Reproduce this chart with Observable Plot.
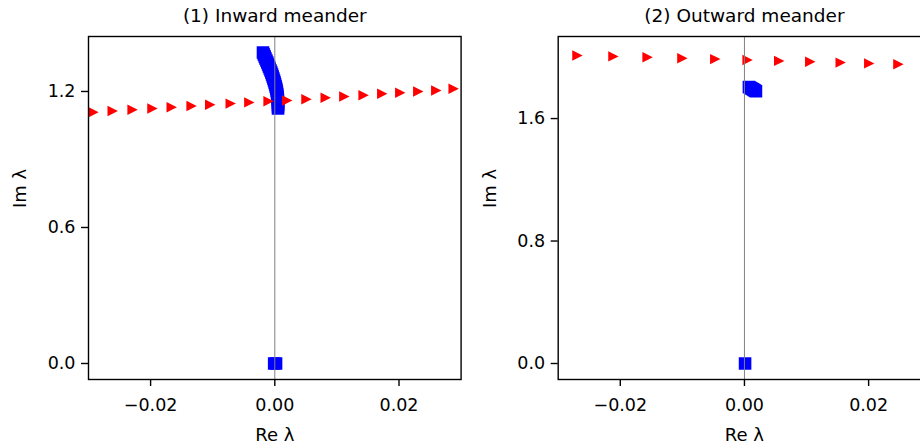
<!DOCTYPE html>
<html>
<head>
<meta charset="utf-8">
<script src="https://cdn.jsdelivr.net/npm/d3@7"></script>
<script src="https://cdn.jsdelivr.net/npm/@observablehq/plot@0.6"></script>
<style>
  html, body { margin: 0; padding: 0; background: white; }
  #wrap { width: 920px; height: 444px; overflow: hidden; display: flex; flex-direction: row; }
  #wrap svg { flex: none; }
</style>
</head>
<body>
<div id="wrap"></div>
<script>
// ---------- Data ----------
const titles = ["(1) Inward meander", "(2) Outward meander"];
const xLabel = "Re λ";
const yLabel = "Im λ";
const xTicks = [-0.02, 0, 0.02];
const yTicksInward = [0, 0.6, 1.2];
const yTicksOutward = [0, 0.8, 1.6];

// Panel 1 : red triangles
const inwardRedRe = [-0.0292, -0.0261, -0.0229, -0.0197, -0.0166, -0.0134, -0.0104, -0.0071, -0.0041, -0.0010,
                     0.0020, 0.0051, 0.0082, 0.0112, 0.0143, 0.0173, 0.0202, 0.0231, 0.0260, 0.0288];
const inwardRedIm = [1.1085, 1.1138, 1.1196, 1.1249, 1.1301, 1.1359, 1.1412, 1.1465, 1.1517, 1.1570,
                     1.1601, 1.1659, 1.1720, 1.1778, 1.1835, 1.1897, 1.1941, 1.1998, 1.2042, 1.2117];
// Panel 1 : blue squares (meandering branch + origin)
const inwardBlueRe = [-0.00190, -0.00177, -0.00163, -0.00150, -0.00135, -0.00121, -0.00108, -0.00095, -0.00082,
                      -0.00069, -0.00056, -0.00045, -0.00034, -0.00023, -0.00013, -0.00003, 0.00006, 0.00014,
                      0.00023, 0.00029, 0.00035, 0.00040, 0.00045, 0.00048, 0.00050, 0.00052, 0.00052, 0.00052,
                      0.00052, -0.0001, 0.0002];
const inwardBlueIm = [1.3719, 1.3630, 1.3542, 1.3454, 1.3366, 1.3278, 1.3189, 1.3101, 1.3013,
                      1.2925, 1.2837, 1.2748, 1.2660, 1.2572, 1.2484, 1.2395, 1.2307, 1.2219,
                      1.2131, 1.2042, 1.1954, 1.1866, 1.1778, 1.1690, 1.1601, 1.1513, 1.1425, 1.1337,
                      1.1249, 0, 0];

// Panel 2 : red triangles
const outwardRedRe = [-0.0269, -0.0211, -0.0156, -0.0100, -0.0047, 0.0005, 0.0056, 0.0106, 0.0155, 0.0201, 0.0248];
const outwardRedIm = [2.0118, 2.0059, 2.0000, 1.9941, 1.9883, 1.9824, 1.9765, 1.9706, 1.9654, 1.9602, 1.9549];
// Panel 2 : blue squares
const outwardBlueRe = [0.00072, 0.00089, 0.00105, 0.00121, 0.00137, 0.00153, 0.00169, 0.00185, 0.0001];
const outwardBlueIm = [1.8060, 1.8021, 1.7982, 1.7943, 1.7903, 1.7864, 1.7825, 1.7786, 0];

const yDomainInward = [-0.0706, 1.4425];
const yDomainOutward = [-0.1045, 2.136];

// ---------- Symbols ----------
const squareSym = {draw(ctx, size) { const r = Math.sqrt(size / Math.PI); ctx.rect(-r, -r, 2 * r, 2 * r); }};
const triRightSym = {draw(ctx, size) {
  const r = Math.sqrt(size / Math.PI);
  ctx.moveTo(r, 0); ctx.lineTo(-r, -r); ctx.lineTo(-r, r); ctx.closePath();
}};

const zip = (xs, ys) => xs.map((x, i) => ({re: x, im: ys[i]}));

function panel({title, red, blue, yDomain, yTicks, marginLeft, marginRight}) {
  return Plot.plot({
    width: 470, height: 444,
    marginLeft, marginRight, marginTop: 36, marginBottom: 65,
    x: {domain: [-0.03, 0.03]},
    y: {domain: yDomain},
    style: {fontFamily: "DejaVu Sans", fontSize: "17.5px", color: "black", background: "white", overflow: "visible"},
    marks: [
      Plot.dot(blue, {x: "re", y: "im", symbol: squareSym, r: 6.3, fill: "#0000ff", stroke: "none", clip: true}),
      Plot.dot(red, {x: "re", y: "im", symbol: triRightSym, r: 5.2, fill: "#ff0000", stroke: "none", clip: true}),
      Plot.ruleX([0], {stroke: "#808080", strokeWidth: 1}),
      Plot.frame({stroke: "black", strokeWidth: 1.4}),
      Plot.axisX({ticks: xTicks, tickFormat: d3.format(".2f"), tickSize: 7, tickPadding: 12, strokeWidth: 1.4, label: null}),
      Plot.axisY({ticks: yTicks, tickFormat: d3.format(".1f"), tickSize: 7, tickPadding: 6, strokeWidth: 1.4, label: null}),
      Plot.text([title], {frameAnchor: "top", dy: -28, fontSize: 18.5}),
      Plot.text([xLabel], {frameAnchor: "bottom", dy: 61, fontSize: 18}),
      Plot.text([yLabel], {frameAnchor: "left", dx: -68, rotate: -90, fontSize: 18})
    ]
  });
}

const wrap = document.getElementById("wrap");
wrap.appendChild(panel({
  title: titles[0],
  red: zip(inwardRedRe, inwardRedIm),
  blue: zip(inwardBlueRe, inwardBlueIm),
  yDomain: yDomainInward, yTicks: yTicksInward,
  marginLeft: 88, marginRight: 9.4
}));
wrap.appendChild(panel({
  title: titles[1],
  red: zip(outwardRedRe, outwardRedIm),
  blue: zip(outwardBlueRe, outwardBlueIm),
  yDomain: yDomainOutward, yTicks: yTicksOutward,
  marginLeft: 87.7, marginRight: 9.8
}));
</script>
</body>
</html>
